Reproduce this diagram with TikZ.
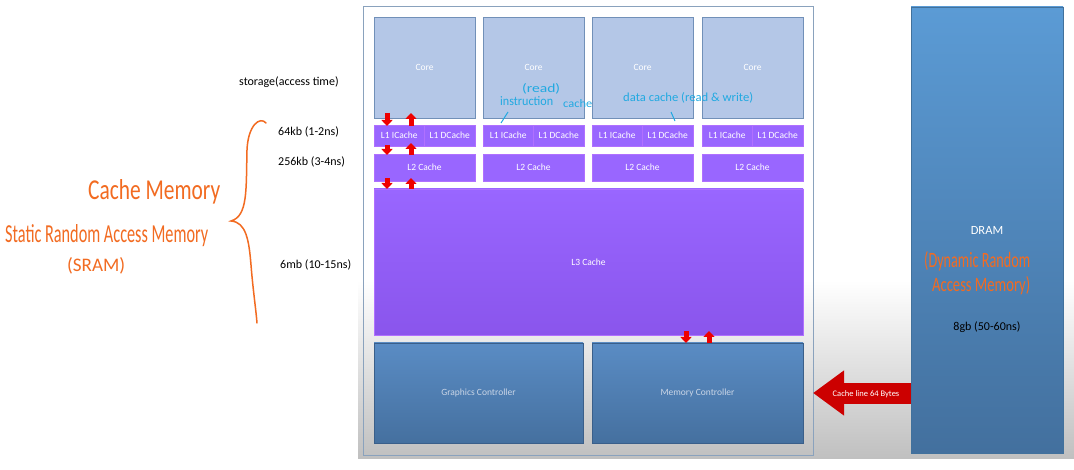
\documentclass[tikz,border=0pt]{standalone}
\usepackage{fontspec}
\setmainfont{Carlito}
\usetikzlibrary{arrows.meta,calc}
\definecolor{corefill}{HTML}{B4C7E7}
\definecolor{coredraw}{HTML}{7190B8}
\definecolor{cachefill}{HTML}{9966FF}
\definecolor{cachebot}{HTML}{8A55EC}
\definecolor{cachedraw}{HTML}{B070FF}
\definecolor{ctrltop}{HTML}{5A8CC4}
\definecolor{ctrlbot}{HTML}{45709F}
\definecolor{ctrldraw}{HTML}{3A5F8A}
\definecolor{dramtop}{HTML}{5B9BD5}
\definecolor{drambot}{HTML}{43709E}
\definecolor{dramdraw}{HTML}{41719C}
\definecolor{chipdraw}{HTML}{8AA2BD}
\definecolor{bggray}{HTML}{C0C0C0}
\definecolor{arrred}{HTML}{EE0000}
\definecolor{bigred}{HTML}{CC0000}
\definecolor{hworange}{HTML}{F26B21}
\definecolor{hwcyan}{HTML}{21A9E1}
\definecolor{ctrltext}{HTML}{C9D5E6}
\newcommand{\hw}[3]{\resizebox{#1}{#2}{#3}}
\begin{document}
\begin{tikzpicture}[x=1pt,y=-1pt,
  box/.style={anchor=north west, inner sep=0pt, outer sep=0pt, line width=0.8pt,
    font=\fontsize{9.5}{11}\selectfont, text=white},
  corebox/.style={box, fill=corefill, draw=coredraw, minimum width=101pt, minimum height=101pt},
  l1box/.style={box, fill=cachefill, draw=cachedraw, minimum width=50.5pt, minimum height=21pt},
  l2box/.style={box, fill=cachefill, draw=cachedraw, minimum width=101pt, minimum height=27pt},
  ctrlbox/.style={box, top color=ctrltop, bottom color=ctrlbot, draw=ctrldraw, minimum height=100pt, text=ctrltext},
  smallarr/.style={draw=arrred, line width=5pt, -{Triangle[width=11pt,length=6pt]}},
  lbl/.style={anchor=west, inner sep=0pt, font=\fontsize{12}{14}\selectfont, text=black},
  hwo/.style={anchor=base west, inner sep=0pt, text=hworange},
  hwc/.style={anchor=base west, inner sep=0pt, text=hwcyan}]
\useasboundingbox (0,0) rectangle (1074,470);
\fill[white] (0,0) rectangle (1074,470);
\shade[top color=white, bottom color=bggray] (358,280) rectangle (1074,458);

% chip frame
\node[box, draw=chipdraw, line width=1pt, minimum width=450pt, minimum height=448pt] (chip) at (363,7) {};

% cores and caches
\foreach \i/\x in {1/374,2/483,3/592,4/702}{
  \node[corebox] (c\i) at (\x,17) {Core};
  \node[l1box] (l1i\i) at (\x,125) {L1 ICache};
  \node[l1box] (l1d\i) at (\x+50.5,125) {L1 DCache};
  \node[l2box] (l2\i) at (\x,154) {L2 Cache};
}
\node[box, top color=cachefill, bottom color=cachebot, draw=cachedraw, minimum width=429pt, minimum height=146pt] (l3) at (374,189) {L3 Cache};
\node[ctrlbox, minimum width=209pt] (gc) at (374,343) {Graphics Controller};
\node[ctrlbox, minimum width=211pt] (mc) at (592,343) {Memory Controller};

% DRAM
\node[box, top color=dramtop, middle color=dramtop, bottom color=drambot, draw=dramdraw, minimum width=152pt, minimum height=446pt] (dram) at (911,7) {};
\node[inner sep=0pt, text=white, font=\fontsize{12.5}{14}\selectfont] (dramt) at (987,230) {DRAM};
\node[inner sep=0pt, text=black, font=\fontsize{12}{14}\selectfont] (dramsz) at (987,327) {8gb (50-60ns)};

% small red arrows
\draw[smallarr] ([xshift=13pt,yshift=5pt]c1.south west) -- ([xshift=13pt,yshift=-1pt]l1i1.north west);
\draw[smallarr] ([xshift=37pt,yshift=-1pt]l1i1.north west) -- ([xshift=37pt,yshift=5pt]c1.south west);
\draw[smallarr] ([xshift=13pt,yshift=1pt]l1i1.south west) -- ([xshift=13pt,yshift=-1pt]l21.north west);
\draw[smallarr] ([xshift=37pt,yshift=-1pt]l21.north west) -- ([xshift=37pt,yshift=3pt]l1i1.south west);
\draw[smallarr] ([xshift=13pt,yshift=3pt]l21.south west) -- ([xshift=13pt]l3.north west);
\draw[smallarr] ([xshift=37pt]l3.north west) -- ([xshift=37pt,yshift=3pt]l21.south west);
\coordinate (mca) at ([xshift=94pt]mc.north west);
\coordinate (mcb) at ([xshift=117pt]mc.north west);
\draw[smallarr] ([yshift=4pt]l3.south -| mca) -- (mca);
\draw[smallarr] (mcb) -- ([yshift=4pt]l3.south -| mcb);

% big arrow
\draw[bigred, line width=21pt, -{Triangle[width=43pt,length=31pt]}] (dram.west |- mc.east) -- (chip.east |- mc.east);
\node[inner sep=0pt, text=white, font=\fontsize{8.5}{10}\selectfont] (cl) at (866,394) {Cache line 64 Bytes};

% left labels
\node[lbl] (st) at (239,82) {storage(access time)};
\node[lbl] (s1) at (278,132) {64kb (1-2ns)};
\node[lbl] (s2) at (278,162) {256kb (3-4ns)};
\node[lbl] (s3) at (280,265) {6mb (10-15ns)};

% brace
\draw[hworange, line width=1.5pt, line cap=round] (266,123) .. controls (260,116) and (248,125) .. (247,150) .. controls (246,190) and (248,216) .. (231,221) .. controls (246,222) and (249,240) .. (251,265) .. controls (253,290) and (256,310) .. (257,323);

% handwritten orange
\node[hwo] (hcm) at (88,200) {\hw{132pt}{20pt}{Cache Memory}};
\node[hwo] (hsr) at (5,243) {\hw{203pt}{18pt}{Static Random Access Memory}};
\node[hwo] (hsram) at (67,272) {\hw{58pt}{14pt}{(SRAM)}};
\node[hwo] (hd1) at (924,268) {\hw{106pt}{16pt}{(Dynamic Random}};
\node[hwo] (hd2) at (932,292) {\hw{98pt}{15pt}{Access Memory)}};

% handwritten cyan
\node[hwc] (hr) at (522,93) {\hw{38pt}{9pt}{(read)}};
\node[hwc] (hin) at (500,106) {\hw{53pt}{9pt}{instruction}};
\node[hwc] (hca) at (563,108) {\hw{29pt}{8pt}{cache}};
\node[hwc] (hdc) at (623,102) {\hw{130pt}{9pt}{data cache (read \& write)}};
\draw[hwcyan, line width=1pt] (508,112) -- (501,123);
\draw[hwcyan, line width=1pt] (671,112) -- (675,121);
\end{tikzpicture}
\end{document}
